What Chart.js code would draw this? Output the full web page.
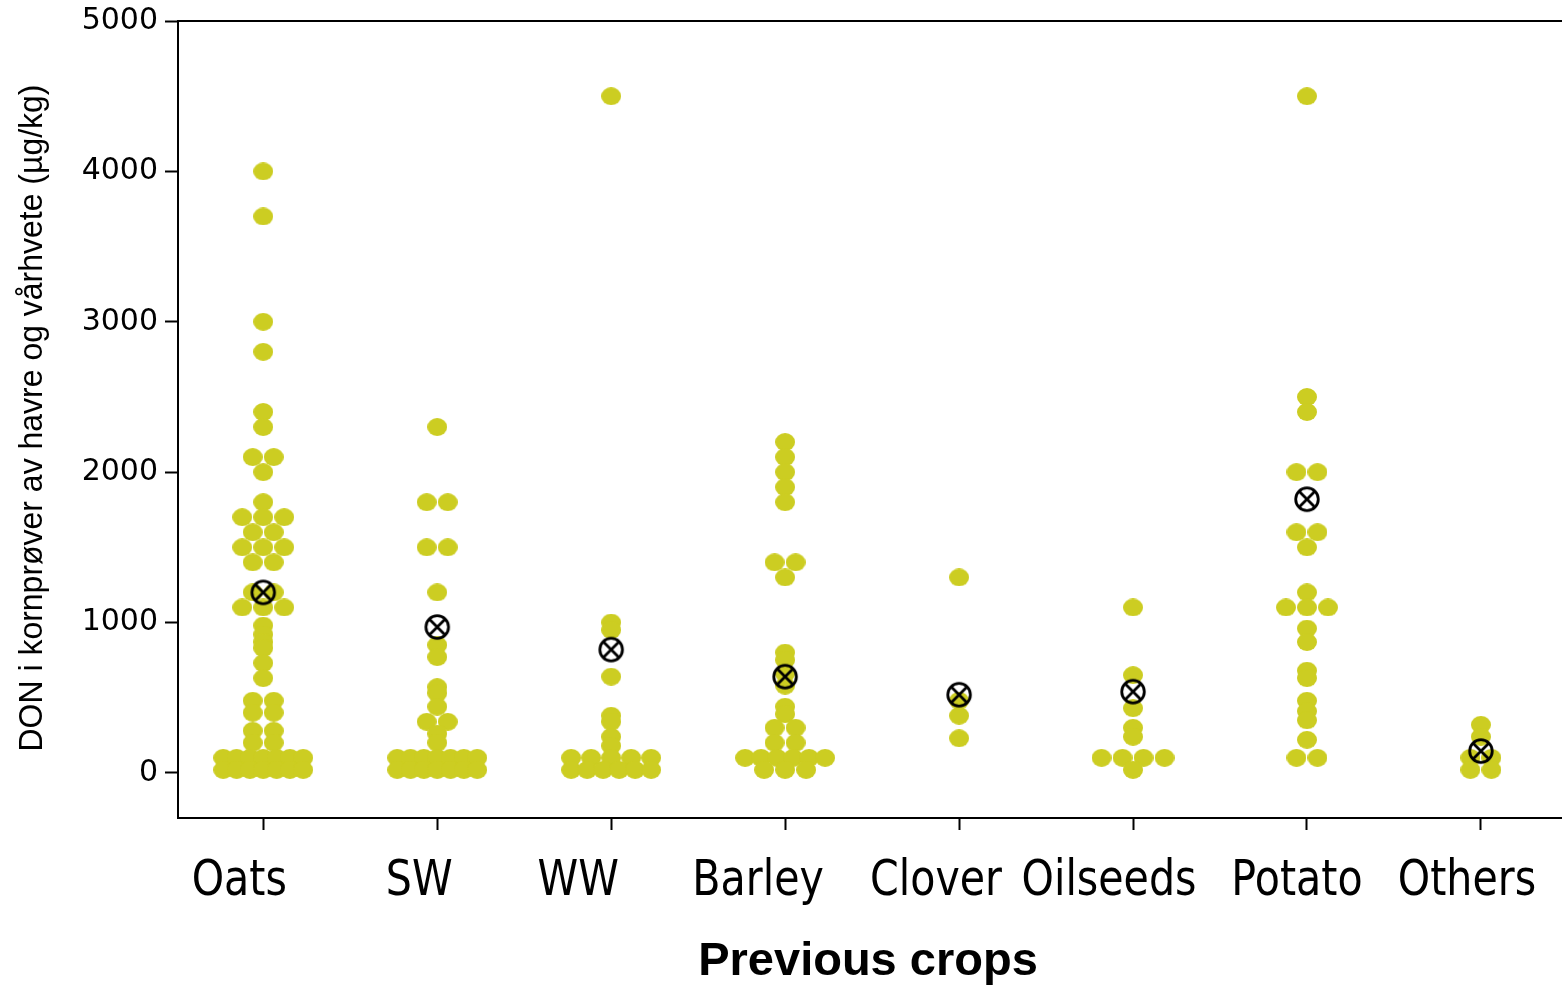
<!DOCTYPE html>
<html>
<head>
<meta charset="utf-8">
<title>DON i kornprøver</title>
<script src="https://cdn.jsdelivr.net/npm/chart.js@4.4.1/dist/chart.umd.min.js"></script>
<style>
  html, body { margin: 0; padding: 0; background: #ffffff; }
  canvas { display: block; }
</style>
</head>
<body>
<canvas id="chart" width="1562" height="992"></canvas>
<script>
// Previous crops on the x axis
const categories = ['Oats', 'SW', 'WW', 'Barley', 'Clover', 'Oilseeds', 'Potato', 'Others'];

// DON (µg/kg) per sample, grouped by previous crop
const oats = [4000, 3700, 3000, 2800, 2400, 2300, 2100, 2100, 2000, 1800,
  1700, 1700, 1700, 1600, 1600, 1500, 1500, 1500, 1400, 1400, 1200, 1200,
  1100, 1100, 1100, 980, 920, 870, 830, 730, 630, 480, 480, 400, 400,
  280, 280, 200, 200, 100, 100, 100, 100, 100, 100, 100,
  20, 20, 20, 20, 20, 20, 20];
const sw = [2300, 1800, 1800, 1500, 1500, 1200, 850, 770, 570, 530, 440,
  340, 340, 260, 200, 100, 100, 100, 100, 100, 100, 100,
  20, 20, 20, 20, 20, 20, 20];
const ww = [4500, 1000, 950, 640, 380, 340, 240, 180,
  100, 100, 100, 100, 100, 20, 20, 20, 20, 20, 20];
const barley = [2200, 2100, 2000, 1900, 1800, 1400, 1400, 1300, 800, 750,
  660, 580, 440, 390, 300, 300, 200, 200, 100, 100, 100, 100, 100, 100, 20, 20, 20];
const clover = [1300, 480, 380, 230];
const oilseeds = [1100, 650, 430, 300, 240, 100, 100, 100, 100, 20];
const potato = [4500, 2500, 2400, 2000, 2000, 1600, 1600, 1500, 1200,
  1100, 1100, 1100, 960, 870, 680, 630, 480, 410, 350, 220, 100, 100];
const others = [320, 240, 100, 100, 20, 20];

// Group means (⊗ markers)
const means = [1200, 970, 820, 640, 520, 540, 1820, 145];

// Value axis ticks
const yTicks = [0, 1000, 2000, 3000, 4000, 5000];

const groups = [oats, sw, ww, barley, clover, oilseeds, potato, others];

// Dot-plot layout: equal values sit side by side, centred on the category
const PX_PER_CAT = 173.96;
const DOT_STEP = 21;
const MAX_SPREAD = 80;
function swarm(values, idx) {
  const byValue = new Map();
  values.forEach(v => { byValue.set(v, (byValue.get(v) || 0) + 1); });
  const pts = [];
  byValue.forEach((n, v) => {
    const step = n > 1 ? Math.min(DOT_STEP, MAX_SPREAD / (n - 1)) : 0;
    for (let k = 0; k < n; k++) {
      const off = (k - (n - 1) / 2) * step;
      pts.push({ x: idx + off / PX_PER_CAT, y: v });
    }
  });
  return pts;
}

const dotPoints = [];
groups.forEach((g, i) => dotPoints.push(...swarm(g, i)));
const meanPoints = means.map((m, i) => ({ x: i, y: m }));

// Marker images
function makeDot() {
  const c = document.createElement('canvas');
  c.width = 20; c.height = 18;
  const g = c.getContext('2d');
  g.fillStyle = '#cccd22';
  g.beginPath();
  g.ellipse(10, 9, 10, 9, 0, 0, Math.PI * 2);
  g.fill();
  return c;
}
function makeMeanMarker() {
  const c = document.createElement('canvas');
  c.width = 28; c.height = 28;
  const g = c.getContext('2d');
  const r = 11.3, cx = 14, cy = 14, d = r * Math.SQRT1_2;
  g.strokeStyle = '#000000';
  g.lineWidth = 2.8;
  g.beginPath();
  g.arc(cx, cy, r, 0, Math.PI * 2);
  g.stroke();
  g.beginPath();
  g.moveTo(cx - d, cy - d); g.lineTo(cx + d, cy + d);
  g.moveTo(cx + d, cy - d); g.lineTo(cx - d, cy + d);
  g.stroke();
  return c;
}

// Category names sit a little left of their tick marks
const labelShift = [-24, -18, -33, -27, -23, -24, -10, -14];

// Frame line along the top, category names and the two axis titles
const decorations = {
  id: 'decorations',
  afterDraw(chart) {
    const { ctx, chartArea } = chart;
    const xs = chart.scales.x;
    ctx.save();
    ctx.strokeStyle = '#000000';
    ctx.lineWidth = 2;
    ctx.beginPath();
    ctx.moveTo(chartArea.left - 1, chartArea.top);
    ctx.lineTo(chartArea.right, chartArea.top);
    ctx.stroke();

    ctx.fillStyle = '#000000';
    ctx.textAlign = 'center';
    ctx.textBaseline = 'alphabetic';
    ctx.font = '49px "DejaVu Sans", Verdana, sans-serif';
    categories.forEach((name, i) => {
      ctx.save();
      ctx.translate(xs.getPixelForValue(i) + labelShift[i], 895);
      ctx.scale(0.84, 1);
      ctx.fillText(name, 0, 0);
      ctx.restore();
    });

    ctx.font = 'bold 47px "Liberation Sans", Arial, sans-serif';
    ctx.fillText('Previous crops', 868, 975);

    const yTitle = 'DON i kornprøver av havre og vårhvete (µg/kg)';
    ctx.font = '33px "Liberation Sans", Arial, sans-serif';
    const w = ctx.measureText(yTitle).width;
    ctx.translate(33, 418);
    ctx.rotate(-Math.PI / 2);
    ctx.scale(667 / w, 1);
    ctx.textBaseline = 'middle';
    ctx.fillText(yTitle, 0, 0);
    ctx.restore();
  }
};

new Chart(document.getElementById('chart'), {
  type: 'scatter',
  data: {
    datasets: [
      {
        label: 'DON',
        data: dotPoints,
        pointStyle: makeDot(),
        pointRadius: 10,
        pointHoverRadius: 10,
        order: 2
      },
      {
        label: 'Mean',
        data: meanPoints,
        pointStyle: makeMeanMarker(),
        pointRadius: 13,
        pointHoverRadius: 13,
        order: 1
      }
    ]
  },
  options: {
    responsive: false,
    animation: false,
    devicePixelRatio: 1,
    layout: { autoPadding: false, padding: { top: 21, right: 0, left: 0, bottom: 0 } },
    plugins: {
      legend: { display: false },
      tooltip: { enabled: false }
    },
    scales: {
      x: {
        type: 'linear',
        min: -0.49,
        max: 7.466,
        afterFit(scale) {
          scale.height = 174;
          scale.paddingLeft = 0;
          scale.paddingRight = 0;
        },
        afterBuildTicks(scale) {
          scale.ticks = categories.map((_, i) => ({ value: i }));
        },
        ticks: { display: false },
        grid: {
          drawOnChartArea: false,
          drawTicks: true,
          tickLength: 12,
          tickWidth: 2,
          tickColor: '#000000'
        },
        border: { display: true, color: '#000000', width: 2 }
      },
      y: {
        type: 'linear',
        min: -300,
        max: 5000,
        afterFit(scale) {
          scale.width = 178;
          scale.paddingTop = 0;
          scale.paddingBottom = 0;
        },
        afterBuildTicks(scale) {
          scale.ticks = yTicks.map(v => ({ value: v }));
        },
        ticks: {
          callback: v => String(v),
          color: '#000000',
          font: { family: '"DejaVu Sans", Verdana, sans-serif', size: 30 },
          padding: 7
        },
        grid: {
          drawOnChartArea: false,
          drawTicks: true,
          tickLength: 13,
          tickWidth: 2,
          tickColor: '#000000'
        },
        border: { display: true, color: '#000000', width: 2 }
      }
    }
  },
  plugins: [decorations]
});
</script>
</body>
</html>
